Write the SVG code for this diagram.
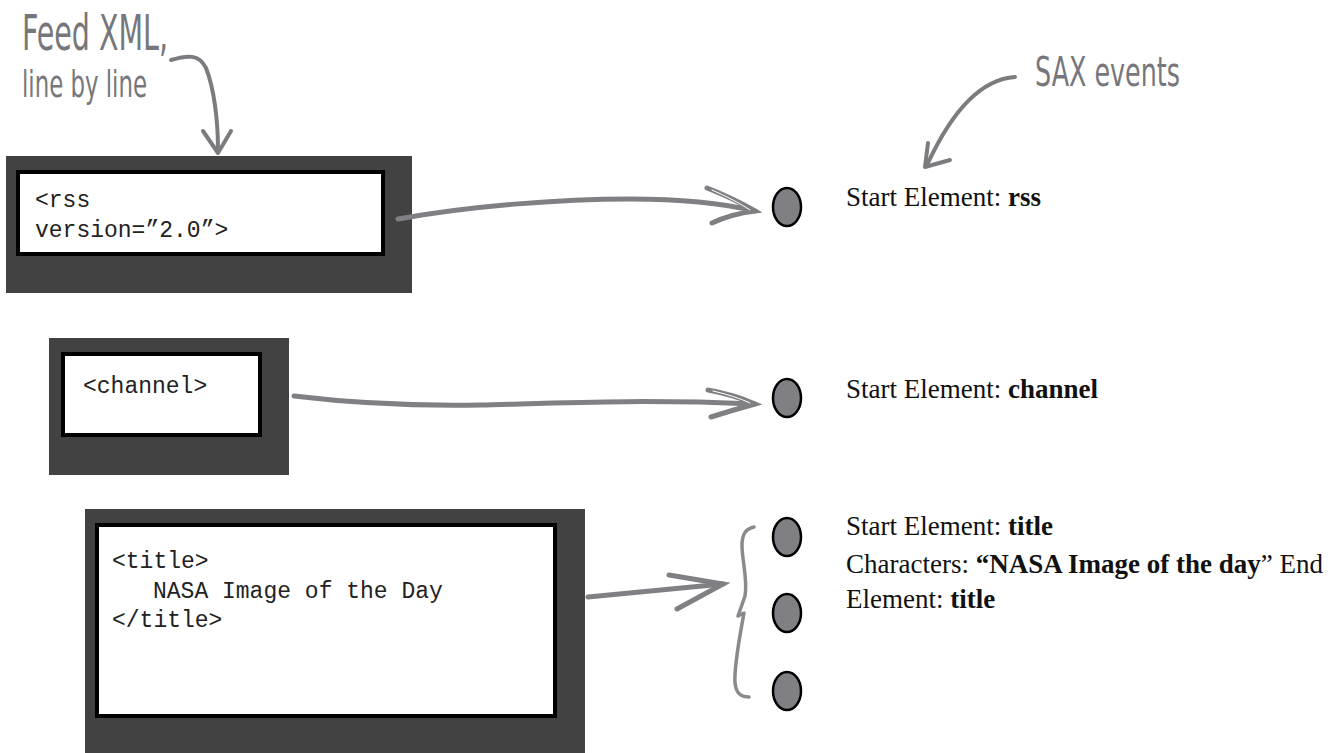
<svg xmlns="http://www.w3.org/2000/svg" width="1342" height="753" viewBox="0 0 1342 753">
  <style>
    .panel { fill: #424242; }
    .screen { fill: #ffffff; stroke: #000000; stroke-width: 4; }
    .code { font-family: "Liberation Mono", "Courier New", monospace; font-size: 23px; fill: #222222; }
    .event { font-family: "Liberation Serif", "Times New Roman", serif; font-size: 27px; fill: #111111; }
    .event .b { font-weight: bold; }
    .hand { font-family: "DejaVu Sans Condensed", "DejaVu Sans", sans-serif; fill: #77777b; }
    .wire { fill: none; stroke: #808084; stroke-width: 5; stroke-linecap: round; stroke-linejoin: round; }
    .head { fill: none; stroke: #808084; stroke-width: 5; stroke-linecap: round; stroke-linejoin: miter; }
    .glint { fill: none; stroke: #ffffff; stroke-width: 1; stroke-linecap: round; }
    .note { fill: none; stroke: #7c7c80; stroke-width: 4; stroke-linecap: round; stroke-linejoin: round; }
    .brace { fill: none; stroke: #8a8a8e; stroke-width: 3.5; stroke-linecap: round; stroke-linejoin: round; }
    .dot { fill: #808084; stroke: #000000; stroke-width: 2.5; }
  </style>

  <!-- handwritten notes -->
  <g id="note-feed">
    <text class="hand" x="22" y="50" font-size="50" textLength="146" lengthAdjust="spacingAndGlyphs">Feed XML,</text>
    <text class="hand" x="22" y="97" font-size="38" textLength="125" lengthAdjust="spacingAndGlyphs">line by line</text>
    <path class="note" d="M171,60 C188,55 199,54 206,68 C214,88 218,120 218,150"/>
    <path class="note" d="M203,131 L218,153 L231,131"/>
  </g>
  <g id="note-sax">
    <text class="hand" x="1035" y="86" font-size="41" textLength="145" lengthAdjust="spacingAndGlyphs">SAX events</text>
    <path class="note" d="M1015,77 C985,79 955,105 928,163"/>
    <path class="note" d="M928,143 L925,167 L950,160"/>
  </g>

  <!-- XML input panels -->
  <g id="xml-rss">
    <rect class="panel" x="6" y="156" width="406" height="137"/>
    <rect class="screen" x="18" y="172" width="365" height="82"/>
    <text class="code" x="35" y="207">&lt;rss</text>
    <text class="code" x="35" y="237">version=”2.0”&gt;</text>
  </g>
  <g id="xml-channel">
    <rect class="panel" x="49" y="338" width="240" height="137"/>
    <rect class="screen" x="63" y="354" width="197" height="81"/>
    <text class="code" x="83" y="393">&lt;channel&gt;</text>
  </g>
  <g id="xml-title">
    <rect class="panel" x="85" y="509" width="500" height="244"/>
    <rect class="screen" x="97" y="525" width="458" height="191"/>
    <text class="code" x="112" y="568">&lt;title&gt;</text>
    <text class="code" x="153" y="598">NASA Image of the Day</text>
    <text class="code" x="112" y="627">&lt;/title&gt;</text>
  </g>

  <!-- connectors -->
  <g id="connectors">
    <path class="wire" d="M398,219 C470,206 560,199 630,199 C690,199 730,205 755,211"/>
    <path class="head" d="M707,188 Q735,199 755,211 Q731,214 712,223"/>
    <path class="glint" d="M712,190 Q735,200 750,210"/>

    <path class="wire" d="M294,396 C360,404 420,406 480,405 C560,403 640,399 755,404"/>
    <path class="head" d="M708,390 Q735,395 755,404 Q733,410 711,417"/>
    <path class="glint" d="M713,391 Q735,396 750,403"/>

    <path class="wire" d="M588,597 L723,584"/>
    <path class="head" d="M669,575 L723,584 L677,609"/>

    <path class="brace" d="M754,527 C746,529 742,533 742,546 C742,560 748,580 745,596 L738,616 L744,613 C740,635 736,655 735,675 C734,690 738,697 749,697"/>
  </g>

  <!-- SAX event markers -->
  <g id="event-rss">
    <ellipse class="dot" cx="787" cy="207" rx="14" ry="19"/>
    <text class="event" x="846" y="206">Start Element: <tspan class="b">rss</tspan></text>
  </g>
  <g id="event-channel">
    <ellipse class="dot" cx="787" cy="398" rx="14" ry="19"/>
    <text class="event" x="846" y="398">Start Element: <tspan class="b">channel</tspan></text>
  </g>
  <g id="event-title">
    <ellipse class="dot" cx="787" cy="537" rx="14" ry="19"/>
    <ellipse class="dot" cx="787" cy="613" rx="14" ry="19"/>
    <ellipse class="dot" cx="787" cy="691" rx="14" ry="19"/>
    <text class="event" x="846" y="535">Start Element: <tspan class="b">title</tspan></text>
    <text class="event" x="846" y="573">Characters: <tspan class="b">“NASA Image of the day</tspan>” End</text>
    <text class="event" x="846" y="608">Element: <tspan class="b">title</tspan></text>
  </g>
</svg>
